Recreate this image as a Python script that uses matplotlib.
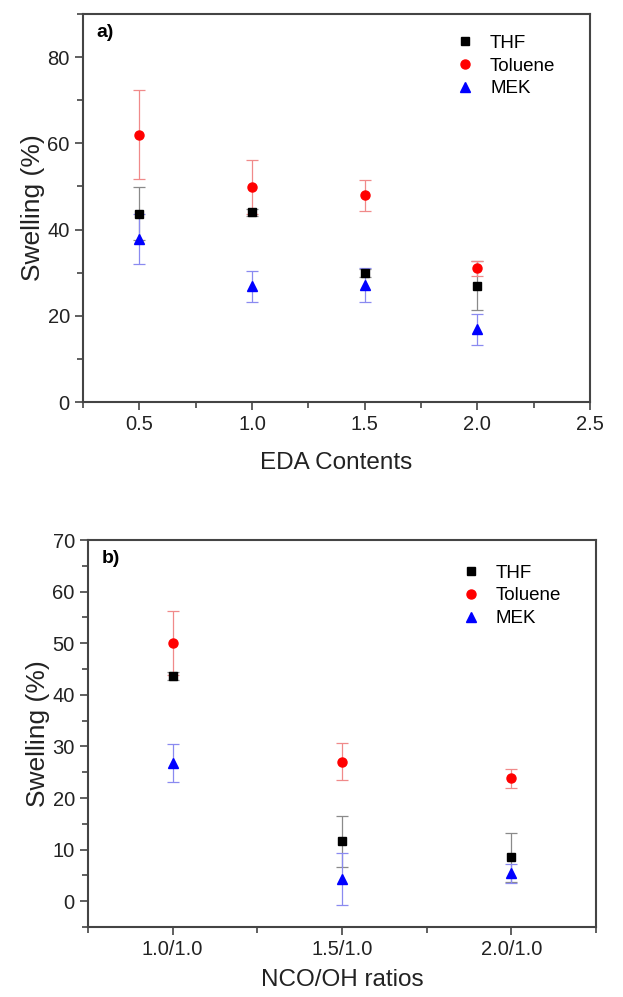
import numpy as np
import matplotlib.pyplot as plt
from matplotlib.ticker import MultipleLocator

plt.rcParams['font.family'] = ['Liberation Sans', 'DejaVu Sans']

# panel a) EDA contents
eda = [0.5, 1.0, 1.5, 2.0]
thf_a = [43.7, 44.0, 30.0, 27.0]
thf_a_err = [6.2, 0.8, 0.9, 5.7]
tol_a = [62.0, 49.9, 47.9, 31.0]
tol_a_err = [10.3, 6.2, 3.7, 1.7]
mek_a = [37.8, 26.8, 27.2, 16.9]
mek_a_err = [5.8, 3.7, 3.9, 3.6]

# panel b) NCO/OH ratios
ratios = ['1.0/1.0', '1.5/1.0', '2.0/1.0']
thf_b = [43.7, 11.6, 8.5]
thf_b_err = [0.8, 5.0, 4.8]
tol_b = [50.0, 27.0, 23.8]
tol_b_err = [6.2, 3.6, 1.8]
mek_b = [26.8, 4.3, 5.4]
mek_b_err = [3.7, 4.95, 1.8]

# name, marker, size, colour, errorbar colour
series_style = [
    ('THF', 's', 5.5, 'black', '#8a8a8a'),
    ('Toluene', 'o', 6.5, 'red', '#f08a8a'),
    ('MEK', '^', 7.0, 'blue', '#8a8af0'),
]


def draw_panel(ax, x, data, label, legend_anchor):
    for (name, mk, ms, col, ecol), (y, e) in zip(series_style, data):
        ax.errorbar(x, y, yerr=e, fmt='none', ecolor=ecol, elinewidth=0.9,
                    capsize=4, capthick=0.9, zorder=2)
        ax.plot(x, y, linestyle='none', marker=mk, color=col, markersize=ms,
                label=name, zorder=3)
    ax.text(0.027, 0.975, label, transform=ax.transAxes, fontsize=14,
            fontweight='bold', va='top', ha='left')
    ax.legend(loc='upper right', frameon=False, fontsize=13.5, handletextpad=0.75,
              labelspacing=0.3, bbox_to_anchor=legend_anchor, handlelength=1.2)
    for s in ax.spines.values():
        s.set_linewidth(1.5)
        s.set_color('#444444')
    ax.tick_params(which='major', direction='out', length=5.5, width=1.2,
                   labelsize=14.5, colors='#444444', labelcolor='#222222', pad=4)
    ax.tick_params(which='minor', direction='out', length=4, width=1.2,
                   colors='#444444')
    ax.set_ylabel('Swelling (%)', fontsize=19, color='#222222', labelpad=2)


fig = plt.figure(figsize=(6.23, 9.97), dpi=100)
ax1 = fig.add_axes([83 / 623, 1 - 402 / 997, (590 - 83) / 623, (402 - 14) / 997])
ax2 = fig.add_axes([88 / 623, 1 - 927 / 997, (596 - 88) / 623, (927 - 540) / 997])

draw_panel(ax1, eda, [(thf_a, thf_a_err), (tol_a, tol_a_err), (mek_a, mek_a_err)],
           'a)', (0.965, 0.99))
ax1.set_xlim(0.25, 2.5)
ax1.set_ylim(0, 90)
ax1.xaxis.set_major_locator(MultipleLocator(0.5))
ax1.xaxis.set_minor_locator(MultipleLocator(0.25))
ax1.yaxis.set_major_locator(MultipleLocator(20))
ax1.yaxis.set_minor_locator(MultipleLocator(10))
ax1.set_xlabel('EDA Contents', fontsize=17.5, color='#222222', labelpad=13)

xb = np.arange(1, len(ratios) + 1)
draw_panel(ax2, xb, [(thf_b, thf_b_err), (tol_b, tol_b_err), (mek_b, mek_b_err)],
           'b)', (0.965, 0.98))
ax2.set_xlim(0.5, 3.5)
ax2.set_ylim(-5, 70)
ax2.set_xticks(xb)
ax2.set_xticklabels(ratios)
ax2.xaxis.set_minor_locator(MultipleLocator(0.5))
ax2.yaxis.set_major_locator(MultipleLocator(10))
ax2.yaxis.set_minor_locator(MultipleLocator(5))
ax2.set_xlabel('NCO/OH ratios', fontsize=17.5, color='#222222', labelpad=7)

fig.savefig('out.png', dpi=100)
